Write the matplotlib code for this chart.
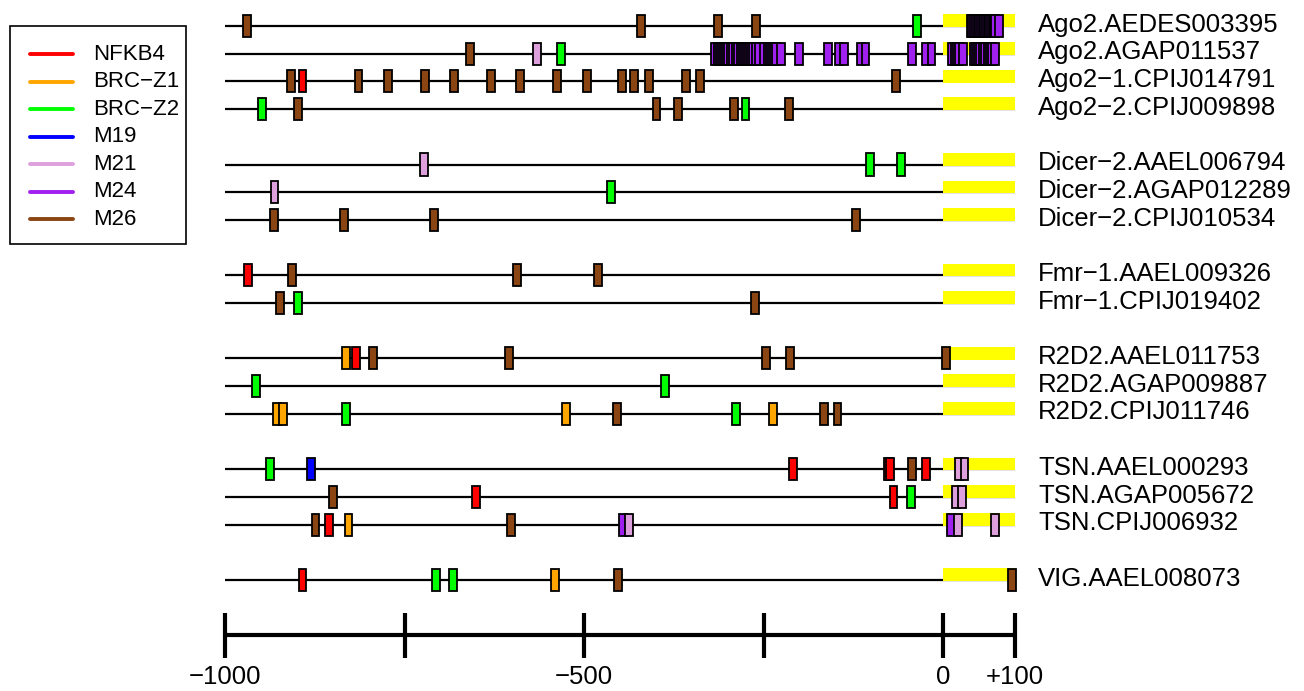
import matplotlib
matplotlib.use("Agg")
import matplotlib.pyplot as plt
from matplotlib.patches import Rectangle

plt.rcParams['font.family'] = ['Liberation Sans', 'DejaVu Sans']

# ---------------- data ----------------
motif_names = ["NFKB4", "BRC-Z1", "BRC-Z2", "M19", "M21", "M24", "M26"]
motif_colors = ["#FF0000", "#FFA500", "#00FF00", "#0000FF", "#DDA0DD", "#A020F0", "#8B4513"]

ago2_aedes003395 = [("M26", -969), ("M26", -420), ("M26", -313), ("M26", -261), ("BRC-Z2", -36),
                    ("M24", 39), ("M24", 41), ("M24", 43), ("M24", 46), ("M24", 48), ("M24", 50),
                    ("M24", 53), ("M24", 55), ("M24", 57), ("M24", 60), ("M24", 62), ("M24", 64),
                    ("M24", 67), ("M24", 69), ("M24", 71), ("M24", 73), ("M24", 78)]
ago2_agap011537 = [("M26", -659), ("M21", -566), ("BRC-Z2", -532),
                   ("M24", -317), ("M24", -314), ("M24", -311), ("M24", -308), ("M24", -305),
                   ("M24", -302), ("M24", -299), ("M24", -296), ("M24", -292), ("M24", -288),
                   ("M24", -285), ("M24", -282), ("M24", -279), ("M24", -276), ("M24", -273),
                   ("M24", -270), ("M24", -267), ("M24", -264), ("M24", -261), ("M24", -256),
                   ("M24", -249), ("M24", -244), ("M24", -241), ("M24", -238), ("M24", -235),
                   ("M24", -232), ("M24", -226),
                   ("M24", -200), ("M24", -160), ("M24", -145), ("M24", -138), ("M24", -114),
                   ("M24", -108), ("M24", -43), ("M24", -24), ("M24", -16),
                   ("M24", 13), ("M24", 16), ("M24", 19), ("M24", 22), ("M24", 28),
                   ("M24", 43), ("M24", 46), ("M24", 49), ("M24", 52), ("M24", 55),
                   ("M24", 58), ("M24", 62), ("M24", 65), ("M24", 68), ("M24", 72)]
ago2_1_cpij014791 = [("M26", -908), ("NFKB4", -892), ("M26", -814), ("M26", -773), ("M26", -721),
                     ("M26", -681), ("M26", -629), ("M26", -589), ("M26", -537), ("M26", -496),
                     ("M26", -447), ("M26", -430), ("M26", -410), ("M26", -358), ("M26", -338),
                     ("M26", -65)]
ago2_2_cpij009898 = [("BRC-Z2", -949), ("M26", -898), ("M26", -399), ("M26", -369), ("M26", -291),
                     ("BRC-Z2", -275), ("M26", -215)]
dicer2_aael006794 = [("M21", -723), ("BRC-Z2", -102), ("BRC-Z2", -58)]
dicer2_agap012289 = [("M21", -931), ("BRC-Z2", -463)]
dicer2_cpij010534 = [("M26", -932), ("M26", -834), ("M26", -709), ("M26", -121)]
fmr1_aael009326 = [("NFKB4", -968), ("M26", -907), ("M26", -593), ("M26", -481)]
fmr1_cpij019402 = [("M26", -923), ("BRC-Z2", -898), ("M26", -262)]
r2d2_aael011753 = [("BRC-Z1", -831), ("NFKB4", -817), ("M26", -794), ("M26", -604), ("M26", -247),
                   ("M26", -213), ("M26", 4)]
r2d2_agap009887 = [("BRC-Z2", -957), ("BRC-Z2", -387)]
r2d2_cpij011746 = [("BRC-Z1", -927), ("BRC-Z1", -919), ("BRC-Z2", -832), ("BRC-Z1", -525),
                   ("M26", -454), ("BRC-Z2", -288), ("BRC-Z1", -237), ("M26", -166), ("M26", -147)]
tsn_aael000293 = [("BRC-Z2", -937), ("M19", -880), ("NFKB4", -209), ("NFKB4", -77), ("NFKB4", -74),
                  ("M26", -43), ("NFKB4", -24), ("M21", 22), ("M21", 30)]
tsn_agap005672 = [("M26", -849), ("NFKB4", -650), ("NFKB4", -69), ("BRC-Z2", -44), ("M21", 18),
                  ("M21", 26)]
tsn_cpij006932 = [("M26", -874), ("NFKB4", -855), ("BRC-Z1", -828), ("M26", -602), ("M24", -446),
                  ("M21", -437), ("M24", 11), ("M21", 21), ("M21", 73)]
vig_aael008073 = [("NFKB4", -892), ("BRC-Z2", -706), ("BRC-Z2", -683), ("BRC-Z1", -540),
                  ("M26", -453), ("M26", 96)]

gene_labels = ["Ago2.AEDES003395", "Ago2.AGAP011537", "Ago2\u22121.CPIJ014791", "Ago2\u22122.CPIJ009898",
               None,
               "Dicer\u22122.AAEL006794", "Dicer\u22122.AGAP012289", "Dicer\u22122.CPIJ010534",
               None,
               "Fmr\u22121.AAEL009326", "Fmr\u22121.CPIJ019402",
               None,
               "R2D2.AAEL011753", "R2D2.AGAP009887", "R2D2.CPIJ011746",
               None,
               "TSN.AAEL000293", "TSN.AGAP005672", "TSN.CPIJ006932",
               None,
               "VIG.AAEL008073"]
gene_motifs = [ago2_aedes003395, ago2_agap011537, ago2_1_cpij014791, ago2_2_cpij009898, None,
               dicer2_aael006794, dicer2_agap012289, dicer2_cpij010534, None,
               fmr1_aael009326, fmr1_cpij019402, None,
               r2d2_aael011753, r2d2_agap009887, r2d2_cpij011746, None,
               tsn_aael000293, tsn_agap005672, tsn_cpij006932, None,
               vig_aael008073]

axis_ticks = [-1000, -750, -500, -250, 0, 100]
axis_tick_labels = {-1000: "\u22121000", -500: "\u2212500", 0: "0", 100: "+100"}
seq_start, seq_end = -1000, 100
utr_start, utr_end = 0, 100

# ---------------- drawing ----------------
W, H = 1304, 691
fig = plt.figure(figsize=(W / 100, H / 100), dpi=100)
ax = fig.add_axes([0, 0, 1, 1])
ppu = 0.718  # pixels per unit
x0 = -1000 - 225 / ppu
x1 = -1000 + (W - 225) / ppu
row_px = 27.7
ax.set_xlim(x0, x1)
ax.set_ylim((H - 26) / row_px, -26 / row_px)
ax.axis("off")

color_of = dict(zip(motif_names, motif_colors))
box_w = 11
box_h = 0.8
label_x = -1000 + (1038 - 225) / ppu

for k, (lab, motifs) in enumerate(zip(gene_labels, gene_motifs)):
    if lab is None:
        continue
    ax.hlines(k, seq_start, seq_end, color="black", lw=1.6, zorder=1)
    ax.barh(k - 0.19, utr_end - utr_start, left=utr_start, height=0.46,
            color="#FFFF00", zorder=2, linewidth=0)
    for name, pos in motifs:
        ax.bar(pos, box_h, bottom=k - box_h / 2, width=box_w, color=color_of[name],
               edgecolor="black", linewidth=1.3, zorder=3)
    ax.text(label_x, k - 0.05, lab, fontsize=18.5, va="center", ha="left")

# scale axis
axis_row = 22
ax.hlines(axis_row, seq_start, seq_end, color="black", lw=3, zorder=1)
ax.vlines(axis_ticks, axis_row - 0.8, axis_row + 0.8, color="black", lw=3)
for t, s in axis_tick_labels.items():
    ax.text(t, axis_row + 1.5, s, fontsize=18.5, ha="center", va="center")

# legend (pixel overlay)
lax = fig.add_axes([0, 0, 1, 1])
lax.set_xlim(0, W)
lax.set_ylim(H, 0)
lax.axis("off")
lax.patch.set_alpha(0)
lax.add_patch(Rectangle((10, 26), 176, 218, fill=False, ec="black", lw=1.2))
for i, (name, col) in enumerate(zip(motif_names, motif_colors)):
    y = 54 + 27.5 * i
    lax.plot([30, 73], [y, y], color=col, lw=2.8, solid_capstyle="round")
    lax.text(93, y, name.replace("-", "\u2212"), fontsize=16, va="center", ha="left")

fig.savefig("out.png", dpi=100)
